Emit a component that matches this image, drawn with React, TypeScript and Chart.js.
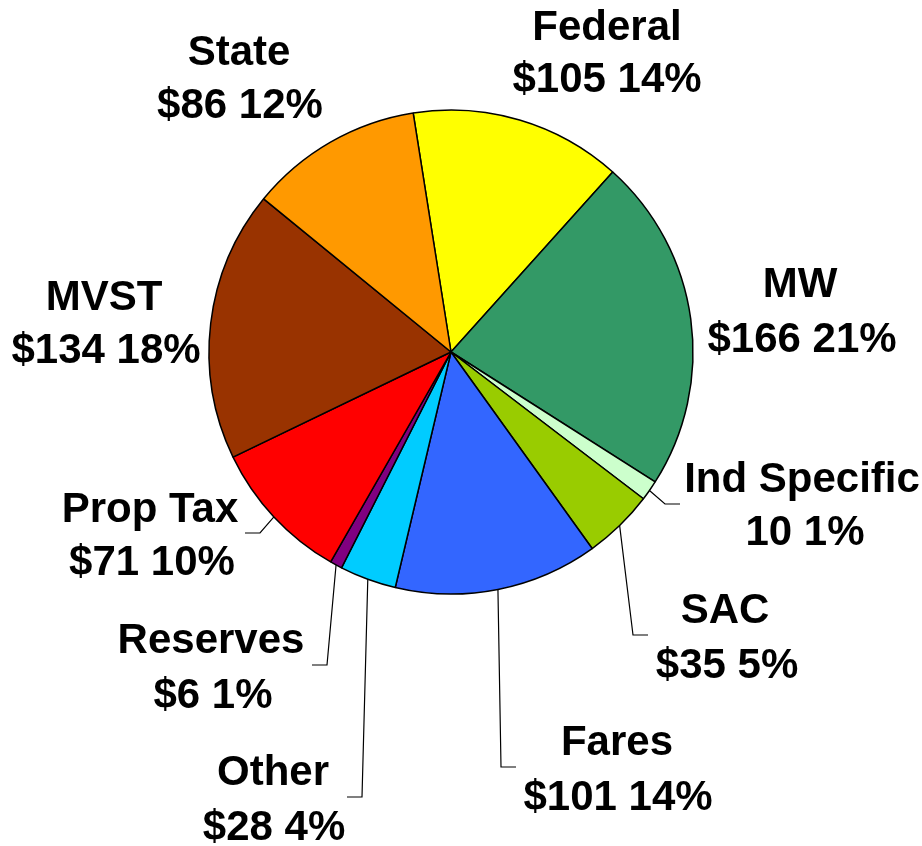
import React, { useEffect, useRef } from "react";
import { Chart, registerables } from "chart.js";

Chart.register(...registerables);

const categories = ["Federal", "MW", "Ind Specific", "SAC", "Fares", "Other", "Reserves", "Prop Tax", "MVST", "State"];
const amounts = [105, 166, 10, 35, 101, 28, 6, 71, 134, 86];
const percentLabels = [14, 21, 1, 5, 14, 4, 1, 10, 18, 12];
const amountPrefix = ["$", "$", "", "$", "$", "$", "$", "$", "$", "$"];
const sliceColors = ["#FFFF00", "#339966", "#CCFFCC", "#99CC00", "#3366FF", "#00CCFF", "#800080", "#FF0000", "#993300", "#FF9900"];

// label layout: center x for each line, baselines, optional leader (elbow, end)
const labelLayout: { x1: number; x2: number; y1: number; y2: number; leader?: number[][] }[] = [
  { x1: 607, x2: 607, y1: 40, y2: 92 },
  { x1: 800, x2: 802, y1: 297, y2: 352 },
  { x1: 802, x2: 805, y1: 492, y2: 545, leader: [[665, 504], [680, 504]] },
  { x1: 725, x2: 727, y1: 623, y2: 678, leader: [[633, 635], [648, 635]] },
  { x1: 617, x2: 618, y1: 755, y2: 810, leader: [[501, 767], [516, 767]] },
  { x1: 273, x2: 274, y1: 785, y2: 840, leader: [[362, 797], [347, 797]] },
  { x1: 211, x2: 213, y1: 653, y2: 708, leader: [[327, 665], [312, 665]] },
  { x1: 150, x2: 152, y1: 522, y2: 575, leader: [[260, 533], [245, 533]] },
  { x1: 104, x2: 106, y1: 310, y2: 363 },
  { x1: 239, x2: 240, y1: 65, y2: 118 },
];

const labelPlugin = {
  id: "pieLabels",
  afterDraw(chart: any) {
    const ctx = chart.ctx;
    const meta = chart.getDatasetMeta(0);
    ctx.save();
    ctx.strokeStyle = "#000";
    ctx.lineWidth = 1.2;
    meta.data.forEach((arc: any, i: number) => {
      const lay = labelLayout[i];
      if (lay.leader) {
        const { x, y, startAngle, endAngle, outerRadius } = arc.getProps(["x", "y", "startAngle", "endAngle", "outerRadius"], true);
        const mid = (startAngle + endAngle) / 2;
        const sx = x + Math.cos(mid) * outerRadius;
        const sy = y + Math.sin(mid) * outerRadius;
        ctx.beginPath();
        ctx.moveTo(sx, sy);
        ctx.lineTo(lay.leader[0][0], lay.leader[0][1]);
        ctx.lineTo(lay.leader[1][0], lay.leader[1][1]);
        ctx.stroke();
      }
      ctx.fillStyle = "#000";
      ctx.font = "bold 42px 'Liberation Sans', Arial, sans-serif";
      ctx.textAlign = "center";
      ctx.textBaseline = "alphabetic";
      ctx.fillText(categories[i], lay.x1, lay.y1);
      ctx.fillText(`${amountPrefix[i]}${amounts[i]} ${percentLabels[i]}%`, lay.x2, lay.y2);
    });
    ctx.restore();
  },
};

export default function App() {
  const ref = useRef<HTMLCanvasElement>(null);
  useEffect(() => {
    if (!ref.current) return;
    const chart = new Chart(ref.current, {
      type: "pie",
      data: {
        labels: categories,
        datasets: [
          {
            data: amounts,
            backgroundColor: sliceColors,
            borderColor: "#000",
            borderWidth: 1.5,
          },
        ],
      },
      options: {
        responsive: false,
        animation: false,
        rotation: -9,
        radius: 242,
        layout: { padding: { left: 209, right: 229, top: 110, bottom: 252 } },
        plugins: { legend: { display: false }, tooltip: { enabled: false } },
      },
      plugins: [labelPlugin],
    });
    return () => chart.destroy();
  }, []);
  return (
    <div style={{ position: "absolute", left: 0, top: 0, width: 922, height: 846, background: "#fff" }}>
      <canvas ref={ref} width={922} height={846} style={{ width: 922, height: 846 }} />
    </div>
  );
}
